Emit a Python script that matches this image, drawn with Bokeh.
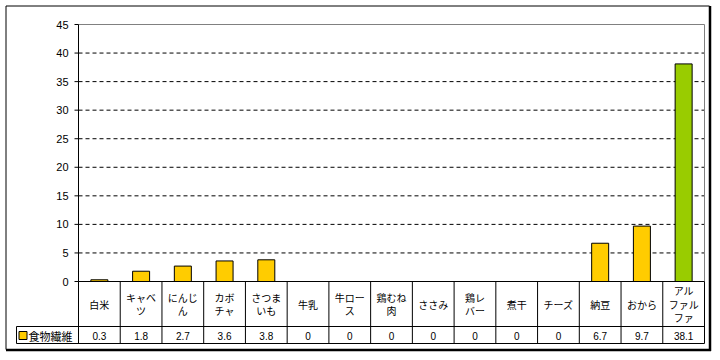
from bokeh.plotting import figure
from bokeh.models import Range1d
from bokeh.core.properties import value
from bokeh.embed import file_html
from bokeh.resources import INLINE

# ---- data ----
categories = ["白米", "キャベツ", "にんじん", "カボチャ", "さつまいも", "牛乳", "牛ロース",
              "鶏むね肉", "ささみ", "鶏レバー", "煮干", "チーズ", "納豆", "おから", "アルファルファ"]
category_labels = ["白米", "キャベ\nツ", "にんじ\nん", "カボ\nチャ", "さつま\nいも", "牛乳", "牛ロー\nス",
                   "鶏むね\n肉", "ささみ", "鶏レ\nバー", "煮干", "チーズ", "納豆", "おから", "アル\nファル\nファ"]
fiber = [0.3, 1.8, 2.7, 3.6, 3.8, 0, 0, 0, 0, 0, 0, 0, 6.7, 9.7, 38.1]
fiber_text = ["0.3", "1.8", "2.7", "3.6", "3.8", "0", "0", "0", "0", "0", "0", "0", "6.7", "9.7", "38.1"]
series_name = "食物繊維"
y_ticks = [0, 5, 10, 15, 20, 25, 30, 35, 40, 45]
y_tick_labels = [str(t) for t in y_ticks]

bar_colors = ["#FFCC00"] * 14 + ["#99CC00"]

# ---- layout helpers (figure pixel -> data) ----
L, R, T, B = 78, 704, 24, 281
W_FIG, H_FIG = 712, 352
w = (R - L) / len(categories)
def X(px): return (px - L) / w - 0.5
def Y(py): return (B - py) * 45 / (B - T)

FONT = value("Noto Sans CJK JP")

p = figure(width=W_FIG, height=H_FIG, output_backend="svg", toolbar_location=None,
           x_range=Range1d(X(0), X(W_FIG)), y_range=Range1d(Y(H_FIG), Y(0)),
           min_border=0, x_axis_location=None, y_axis_location=None,
           outline_line_color=None, background_fill_color="white", border_fill_color="white")
p.xgrid.visible = False
p.ygrid.visible = False

# outer frame with shadow
p.segment(x0=[X(5.5), X(5.5)], y0=[Y(5.5), Y(5.5)], x1=[X(709), X(5.5)], y1=[Y(5.5), Y(349)],
          line_color="black", line_width=1)
p.segment(x0=[X(709.5), X(5.5)], y0=[Y(5.5), Y(349.5)], x1=[X(709.5), X(710.5)], y1=[Y(350.5), Y(349.5)],
          line_color="black", line_width=2.5)

# grid lines
xs = list(range(len(categories)))
p.segment(x0=[X(L)] * 8, y0=y_ticks[1:9], x1=[X(R)] * 8, y1=y_ticks[1:9],
          line_color="black", line_width=1, line_dash="4 3")
# plot border (gray top/right)
p.segment(x0=[X(L), X(R)], y0=[45, 45], x1=[X(R), X(R)], y1=[45, 0], line_color="#808080", line_width=1)
# y axis
p.segment(x0=[X(L)], y0=[0], x1=[X(L)], y1=[45], line_color="black", line_width=1)
p.segment(x0=[X(L - 4)] * len(y_ticks), y0=y_ticks, x1=[X(L)] * len(y_ticks), y1=y_ticks,
          line_color="black", line_width=1)
p.text(x=[X(68)] * len(y_ticks), y=y_ticks, text=y_tick_labels, text_align="right",
       text_baseline="middle", text_font=value("Liberation Sans"), text_font_size="11px", text_color="black")

# bars
p.vbar(x=xs, top=fiber, width=17 / w, bottom=0, fill_color=bar_colors, line_color="black", line_width=1)

# data table
p.segment(x0=[X(L), X(16), X(16)], y0=[0, Y(326), Y(343)], x1=[X(R), X(R), X(R)], y1=[0, Y(326), Y(343)],
          line_color="black", line_width=1)
bounds = [i - 0.5 for i in range(len(categories) + 1)]
p.segment(x0=bounds, y0=[0] * len(bounds), x1=bounds, y1=[Y(343)] * len(bounds),
          line_color="black", line_width=1)
p.segment(x0=[X(16)], y0=[Y(326)], x1=[X(16)], y1=[Y(343)], line_color="black", line_width=1)

# category labels, one text per line, block centred in the row
lx, ly, lt = [], [], []
for i, lab in enumerate(category_labels):
    lines = lab.split("\n")
    n = len(lines)
    for k, line in enumerate(lines):
        lx.append(i)
        ly.append(Y(303.5 + (k - (n - 1) / 2) * 13.3))
        lt.append(line)
p.text(x=lx, y=ly, text=lt, text_align="center", text_baseline="middle",
       text_font=FONT, text_font_size="10px", text_color="black")
p.text(x=xs, y=[Y(335)] * len(xs), text=fiber_text, text_align="center", text_baseline="middle",
       text_font=value("Liberation Sans"), text_font_size="10px", text_color="black")

# legend key in table
p.scatter(x=[X(22.5)], y=[Y(335)], marker="square", size=8, fill_color="#FFCC00", line_color="black")
p.text(x=[X(28)], y=[Y(335)], text=[series_name], text_align="left", text_baseline="middle",
       text_font=FONT, text_font_size="11px", text_color="black")

open("out.html", "w").write(file_html(p, INLINE))
